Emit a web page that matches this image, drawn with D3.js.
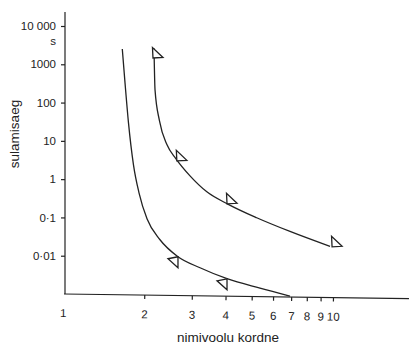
<!DOCTYPE html>
<html>
<head>
<meta charset="utf-8">
<script src="https://cdn.jsdelivr.net/npm/d3@7"></script>
<style>
  body { margin: 0; background: #fff; }
  svg { display: block; font-family: "Liberation Sans", Arial, Helvetica, sans-serif; }
</style>
</head>
<body>
<figure id="melt" style="margin:0"></figure>
<script>
// data (log-log)
const xTicks = [1, 2, 3, 4, 5, 6, 7, 8, 9, 10];
const yTicks = [10000, 1000, 100, 10, 1, 0.1, 0.01];
const yTickLabels = ["10 000", "1000", "100", "10", "1", "0·1", "0·01"];

// left curve
const curveA = [
  [1.658, 2512], [1.697, 326], [1.748, 29.5], [1.824, 2.37], [1.912, 0.44],
  [2.047, 0.0923], [2.287, 0.0261], [2.666, 0.0094], [3.217, 0.00485],
  [4.05, 0.00251], [5.365, 0.00142], [6.93, 0.00088]
];
// right curve
const curveB = [
  [2.173, 2620], [2.192, 214], [2.277, 33.2], [2.428, 7.86], [2.621, 3.39],
  [2.954, 1.22], [3.41, 0.467], [4.095, 0.22], [5.217, 0.098], [6.93, 0.043],
  [9.75, 0.0175]
];
// measured points (triangles)
const pointsA = [[2.666, 0.0094], [4.05, 0.0025]];
const pointsB = [[2.154, 1462], [2.64, 3.0], [4.05, 0.227], [9.92, 0.0171]];

const width = 409, height = 345;
const ink = "#222";

const svg = d3.select("figure#melt")
  .append("svg")
  .attr("width", width)
  .attr("height", height);

const x = d3.scaleLog().domain([1, 10]).range([63, 333]);
const y = d3.scaleLog().domain([0.001, 10000]).range([294, 26]);

// y axis
const yAxis = svg.append("g")
  .attr("transform", "translate(65,0)")
  .call(d3.axisLeft(y)
    .tickValues(yTicks)
    .tickFormat((d, i) => yTickLabels[i])
    .tickSize(4)
    .tickPadding(5)
    .tickSizeOuter(0));
yAxis.select(".domain").attr("d", "M0,12V" + y(0.001));
yAxis.selectAll("line, path").attr("stroke", ink).attr("stroke-width", 1.2);
yAxis.selectAll("text").attr("fill", ink).style("font-size", "11.5px").style("font-family", "inherit");

svg.append("text")
  .attr("x", 56)
  .attr("y", y(10000) + 19)
  .attr("text-anchor", "end")
  .attr("fill", ink)
  .style("font-size", "11.5px")
  .text("s");

// x axis (slightly tilted as in the print)
const xAxis = svg.append("g")
  .attr("transform", "translate(0,294) rotate(0.75," + x(1) + ",0)")
  .call(d3.axisBottom(x)
    .tickValues(xTicks)
    .tickFormat(d3.format("d"))
    .tickSize(4)
    .tickPadding(11)
    .tickSizeOuter(0));
xAxis.select(".domain").attr("d", "M" + (x(1) + 1) + ",0H" + width);
xAxis.selectAll(".tick").filter(d => d === 1).select("line").remove();
xAxis.selectAll("line, path").attr("stroke", ink).attr("stroke-width", 1.2);
xAxis.selectAll("text").attr("fill", ink).style("font-size", "11.5px").style("font-family", "inherit");

// axis titles
svg.append("text")
  .attr("transform", "translate(19,134) rotate(-90)")
  .attr("text-anchor", "middle")
  .attr("fill", ink)
  .style("font-size", "13.5px")
  .text("sulamisaeg");

svg.append("text")
  .attr("x", 228)
  .attr("y", 342)
  .attr("text-anchor", "middle")
  .attr("fill", ink)
  .style("font-size", "13.5px")
  .text("nimivoolu kordne");

// curves
const line = d3.line()
  .x(d => x(d[0]))
  .y(d => y(d[1]))
  .curve(d3.curveMonotoneX);

[curveA, curveB].forEach(c => {
  svg.append("path")
    .datum(c)
    .attr("d", line)
    .attr("fill", "none")
    .attr("stroke", ink)
    .attr("stroke-width", 1.3);
});

// triangle markers
const triLeft = [[0, 0], [-10, 2], [0, 11]];
const triRight = [[0, 0], [-0.5, -10.5], [10, -0.5]];

function drawMarks(points, shape) {
  svg.append("g").selectAll("path")
    .data(points)
    .enter()
    .append("path")
    .attr("transform", d => "translate(" + x(d[0]) + "," + y(d[1]) + ")")
    .attr("d", "M" + shape.map(p => p.join(",")).join("L") + "Z")
    .attr("fill", "#fff")
    .attr("stroke", ink)
    .attr("stroke-width", 1.3);
}
drawMarks(pointsA, triLeft);
drawMarks(pointsB, triRight);
</script>
</body>
</html>
